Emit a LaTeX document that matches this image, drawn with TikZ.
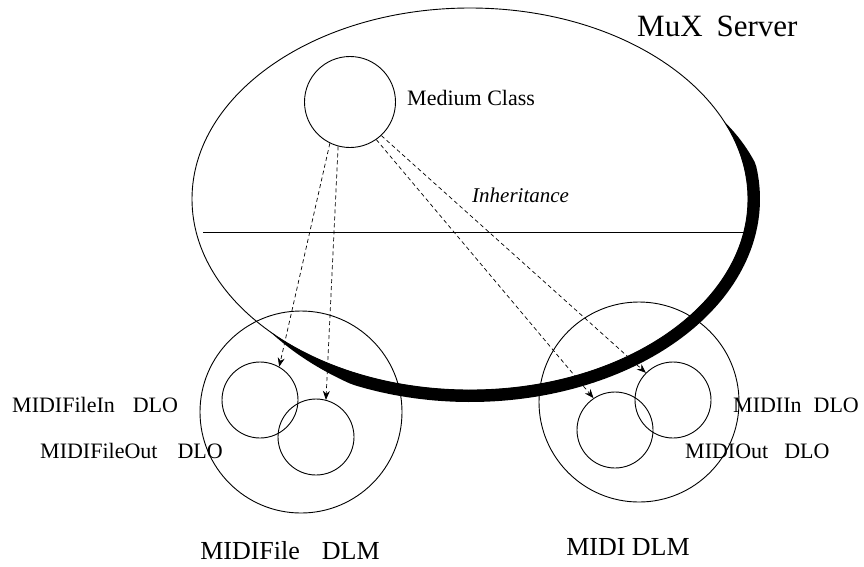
\documentclass[tikz,border=0pt]{standalone}
\usepackage{fontspec}
\setmainfont{Liberation Serif}
\usetikzlibrary{arrows.meta,shapes.geometric}
\begin{document}
\begin{tikzpicture}[x=1pt,y=-1pt,
  declare function={w(\t)=12*min(1,(24-\t)/14)*min(1,(\t+136)/22);},
  ring/.style={circle, draw, line width=0.9pt, inner sep=0pt},
  lbl/.style={anchor=base west, inner sep=0pt, font=\fontsize{22}{26}\selectfont},
  dlmcaption/.style={anchor=base, inner sep=0pt, font=\fontsize{26}{30}\selectfont},
  inh/.style={dash pattern=on 4pt off 3pt, line width=0.7pt, -{Stealth[length=9pt,width=7pt]}}]
\useasboundingbox (0,0) rectangle (864,566);
% thick lower-right rim of the server
\fill plot[domain=24:-136, samples=120, variable=\t]
  ({470+(278+w(\t))*cos(\t)},{199-(191+w(\t))*sin(\t)})
  -- plot[domain=-136:24, samples=120, variable=\t]
  ({470+278*cos(\t)},{199-191*sin(\t)}) -- cycle;
\node[ellipse, draw, line width=0.9pt, inner sep=0pt,
  minimum width=556pt, minimum height=382pt] (mux) at (470,199) {};
\coordinate (hl) at (203,232);
\coordinate (hr) at (745,232);
\draw[line width=0.9pt] (hl) -- (hr);
% circles
\node[ring, minimum size=91pt] (mc) at (350,102) {};
\node[ring, minimum size=202pt] (dlmA) at (301,412) {};
\node[ring, minimum size=76pt] (fin) at (260,400) {};
\node[ring, minimum size=76pt] (fout) at (316,437) {};
\node[ring, minimum size=200pt] (dlmB) at (639,402) {};
\node[ring, minimum size=76pt] (min) at (673,400) {};
\node[ring, minimum size=76pt] (mout) at (615,430) {};
% inheritance arrows
\draw[inh] (mc.244) -- (fin.60);
\draw[inh] (mc.255) -- (fout.75);
\draw[inh] (mc.305) -- (mout.124);
\draw[inh] (mc.313) -- (min.135);
% labels
\node[lbl, font=\fontsize{31}{36}\selectfont] (tmux) at (637,36) {MuX\hspace{14pt}Server};
\node[lbl] (tmc) at (407,105) {Medium Class};
\node[lbl, font=\itshape\fontsize{21}{25}\selectfont] (tinh) at (472,202) {Inheritance};
\node[lbl] (tfin) at (12,412) {MIDIFileIn\hspace{18pt}DLO};
\node[lbl] (tfout) at (40,458) {MIDIFileOut\hspace{20pt}DLO};
\node[lbl] (tmin) at (733,412) {MIDIIn\hspace{12pt}DLO};
\node[lbl] (tmout) at (685,458) {MIDIOut\hspace{16pt}DLO};
\node[dlmcaption] (tdlmA) at (290,559) {MIDIFile\hspace{22pt}DLM};
\node[dlmcaption] (tdlmB) at (628,555) {MIDI DLM};
\end{tikzpicture}
\end{document}
